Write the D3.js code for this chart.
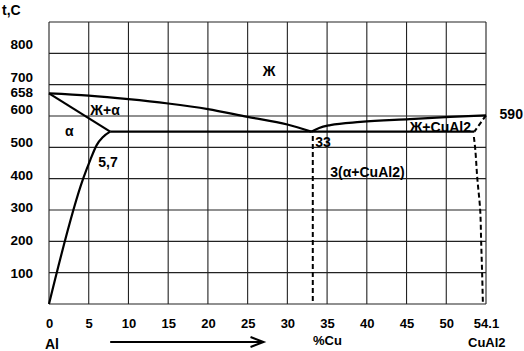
<!DOCTYPE html>
<html>
<head>
<meta charset="utf-8">
<script src="https://cdn.jsdelivr.net/npm/d3@7"></script>
<style>
  body { margin: 0; background: #fff; }
  text { font-family: "Liberation Sans", Arial, sans-serif; font-weight: bold; fill: #000; }
</style>
</head>
<body>
<svg id="chart"></svg>
<script>
// ---- data ----
// x ticks: %Cu, last grid line is CuAl2 (54.1) - spacing is uniform per label
const xTicks = [0, 5, 10, 15, 20, 25, 30, 35, 40, 45, 50, 54.1];
const yGrid = [0, 100, 200, 300, 400, 500, 600, 700, 800, 900];
const yTickLabels = [100, 200, 300, 400, 500, 600, 658, 700, 800];

// liquidus from Al side to eutectic
const liquidusAl = [[0, 672], [5, 665], [10, 654], [15, 640], [20, 622], [25, 597], [30, 573], [33, 550]];
// alpha solidus (liquid -> alpha)
const solidusAlpha = [[0, 672], [7.7, 550]];
// alpha solvus
const solvusAlpha = [[0, 0], [4.3, 400], [5.2, 460], [6.0, 507], [6.8, 533], [7.7, 550]];
// eutectic isotherm
const eutectic = [[7.7, 550], [52.9, 550]];
// liquidus from eutectic to CuAl2
const liquidusCu = [[33, 550], [34, 562], [35.4, 571], [39.2, 581], [45.4, 590], [50.4, 597], [54.1, 602]];
// dashed lines
const eutVertical = [[33.2, 536], [33.2, 0]];
const cuAl2Diag = [[54.1, 602], [52.9, 550]];
const cuAl2Solvus = [[52.85, 533], [53.0, 491], [53.2, 402], [53.5, 300], [53.6, 199], [53.7, 99], [53.78, 0]];

// labels in the diagram (data coords)
const labelText = ["Ж", "Ж+α", "α", "5,7", "33", "3(α+CuAl2)", "Ж+CuAl2", "590"];
const labelPos = [[27.7, 729], [5.2, 602], [2.0, 536], [6.2, 436], [33.5, 500], [35.4, 404], [45.4, 549], [55.5, 590]];
const labelAnchor = ["middle", "start", "start", "start", "start", "start", "start", "start"];

// ---- chart ----
const width = 524, height = 351;
const margin = {top: 22, right: 38, bottom: 47, left: 49};
const innerW = width - margin.left - margin.right;
const innerH = height - margin.top - margin.bottom;

const svg = d3.select('#chart')
    .attr('width', width)
    .attr('height', height);

// piecewise scale so every label sits on its own grid line
const xscale = d3.scaleLinear()
    .domain(xTicks)
    .range(xTicks.map((d, i) => margin.left + i * innerW / (xTicks.length - 1)));

const yscale = d3.scaleLinear()
    .domain([0, 900])
    .range([margin.top + innerH, margin.top]);

// the temperature labels are spaced a bit wider than the grid
const ylabscale = d3.scaleLinear()
    .domain([0, 900])
    .range([305.7, 11.3]);

// grid
const grid = svg.append('g').attr('stroke', '#222').attr('stroke-width', 1.1);
grid.selectAll('.vline')
    .data(xTicks)
    .join('line')
    .attr('x1', d => xscale(d)).attr('x2', d => xscale(d))
    .attr('y1', yscale(0)).attr('y2', yscale(900));
grid.selectAll('.hline')
    .data(yGrid)
    .join('line')
    .attr('x1', xscale(0)).attr('x2', xscale(54.1))
    .attr('y1', d => yscale(d)).attr('y2', d => yscale(d));

// axes (labels only)
const xaxis = d3.axisBottom(xscale)
    .tickValues(xTicks)
    .tickFormat(d => d)
    .tickSize(0)
    .tickPadding(15);
const xaxis_group = svg.append('g')
    .attr('transform', `translate(0, ${yscale(0)})`)
    .call(xaxis);
xaxis_group.select('.domain').remove();
xaxis_group.selectAll('text').style('font-size', '13px').attr('font-family', null);

const yaxis = d3.axisLeft(ylabscale)
    .tickValues(yTickLabels)
    .tickSize(0)
    .tickPadding(16);
const yaxis_group = svg.append('g')
    .attr('transform', `translate(${margin.left}, 0)`)
    .call(yaxis);
yaxis_group.select('.domain').remove();
yaxis_group.selectAll('text').style('font-size', '13.5px').attr('font-family', null);
// 658 sits a little lower than the even spacing
yaxis_group.selectAll('text').filter(d => d === 658).attr('dy', '0.45em');

// curves
const line = d3.line()
    .x(d => xscale(d[0]))
    .y(d => yscale(d[1]));
const smooth = d3.line()
    .x(d => xscale(d[0]))
    .y(d => yscale(d[1]))
    .curve(d3.curveMonotoneX);
const smoothY = d3.line()
    .x(d => xscale(d[0]))
    .y(d => yscale(d[1]))
    .curve(d3.curveCatmullRom);

const curves = svg.append('g')
    .attr('fill', 'none')
    .attr('stroke', '#000')
    .attr('stroke-width', 2.2);
curves.append('path').attr('d', smooth(liquidusAl));
curves.append('path').attr('d', line(solidusAlpha));
curves.append('path').attr('d', smooth(solvusAlpha));
curves.append('path').attr('d', line(eutectic));
curves.append('path').attr('d', smooth(liquidusCu));

const dashed = svg.append('g')
    .attr('fill', 'none')
    .attr('stroke', '#000')
    .attr('stroke-width', 2)
    .attr('stroke-dasharray', '5,3');
dashed.append('path').attr('d', line(eutVertical));
dashed.append('path').attr('d', line(cuAl2Diag));
dashed.append('path').attr('d', smoothY(cuAl2Solvus));

// region labels
svg.append('g')
    .selectAll('text')
    .data(labelText)
    .join('text')
    .style('font-size', '14px')
    .attr('x', (d, i) => xscale(labelPos[i][0]))
    .attr('y', (d, i) => yscale(labelPos[i][1]))
    .attr('text-anchor', (d, i) => labelAnchor[i])
    .text(d => d);

// axis titles
svg.append('text').style('font-size', '14px').attr('x', 2).attr('y', 15).text('t,C');
svg.append('text').style('font-size', '14px').attr('x', 45).attr('y', 349).text('Al');
svg.append('text').style('font-size', '13px').attr('x', 313).attr('y', 345).text('%Cu');
svg.append('text').style('font-size', '13px').attr('x', 468).attr('y', 347).text('CuAl2');

// arrow under the x axis
const arrowY = 342;
const arrow = svg.append('g')
    .attr('fill', 'none')
    .attr('stroke', '#000')
    .attr('stroke-width', 2);
arrow.append('line')
    .attr('x1', xscale(7.7)).attr('x2', xscale(27))
    .attr('y1', arrowY).attr('y2', arrowY);
arrow.append('path')
    .attr('d', `M${xscale(27) - 13},${arrowY - 5}L${xscale(27)},${arrowY}L${xscale(27) - 13},${arrowY + 5}`);
</script>
</body>
</html>
